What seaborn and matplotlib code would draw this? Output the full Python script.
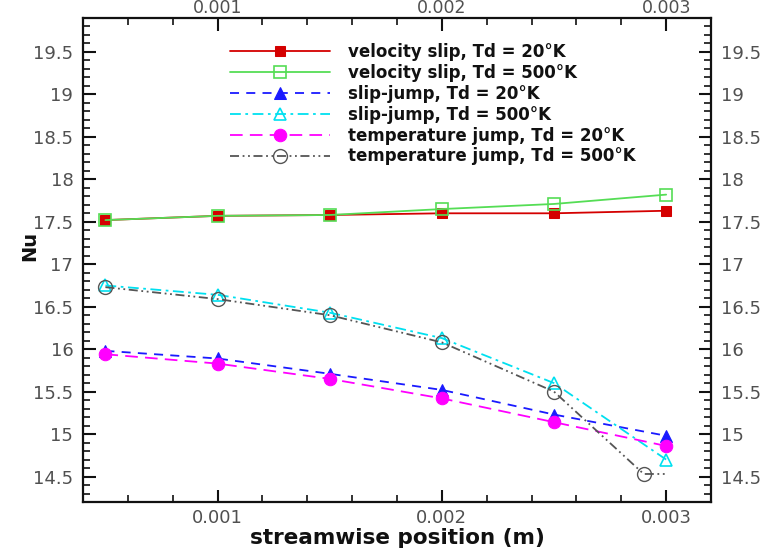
import matplotlib
matplotlib.use("Agg")
import matplotlib.pyplot as plt
from matplotlib.ticker import MultipleLocator, FixedLocator, FuncFormatter
import numpy as np
import pandas as pd
import seaborn as sns

# Streamwise stations (m)
x_pos = [0.0005, 0.001, 0.0015, 0.002, 0.0025, 0.003]
x_tj500 = [0.0005, 0.001, 0.0015, 0.002, 0.0025, 0.0029, 0.003]

# Nusselt number along the wall
nu_vs20 = [17.52, 17.57, 17.58, 17.60, 17.60, 17.63]
nu_vs500 = [17.52, 17.57, 17.58, 17.65, 17.71, 17.82]
nu_sj20 = [15.98, 15.89, 15.71, 15.52, 15.23, 14.98]
nu_sj500 = [16.75, 16.64, 16.43, 16.13, 15.60, 14.70]
nu_tj20 = [15.94, 15.83, 15.65, 15.42, 15.14, 14.86]
nu_tj500 = [16.73, 16.59, 16.40, 16.08, 15.50, 14.53, 14.53]

x_ticks = [0.001, 0.002, 0.003]

labels = [
    "velocity slip, Td = 20°K",
    "velocity slip, Td = 500°K",
    "slip-jump, Td = 20°K",
    "slip-jump, Td = 500°K",
    "temperature jump, Td = 20°K",
    "temperature jump, Td = 500°K",
]

sns.set_style("ticks")
plt.rcParams["font.family"] = ["DejaVu Sans"]

fig = plt.figure(figsize=(7.65, 5.5), dpi=100)
# frame spans x 83..711 px, y 18..502 px
ax = fig.add_axes([83 / 765, 48 / 550, 628 / 765, 484 / 550])

series = [
    (x_pos, nu_vs20, dict(color="#d40000", linestyle="-", marker="s", markersize=7.5,
                          markerfacecolor="#d40000", markeredgecolor="#d40000")),
    (x_pos, nu_vs500, dict(color="#55dd55", linestyle="-", marker="s", markersize=8,
                           markerfacecolor="none", markeredgecolor="#55dd55", markeredgewidth=1.2)),
    (x_pos, nu_sj20, dict(color="#1a1aff", linestyle=(0, (5, 4)), marker="^", markersize=8.5,
                          markerfacecolor="#1a1aff", markeredgecolor="#1a1aff")),
    (x_pos, nu_sj500, dict(color="#00e0f0", linestyle=(0, (6, 2.5, 1.5, 2.5)), marker="^", markersize=9,
                           markerfacecolor="none", markeredgecolor="#00e0f0", markeredgewidth=1.2)),
    (x_pos, nu_tj20, dict(color="#ff00ff", linestyle=(0, (7, 4)), marker="o", markersize=9,
                          markerfacecolor="#ff00ff", markeredgecolor="#ff00ff")),
    (x_tj500, nu_tj500, dict(color="#555555", linestyle=(0, (5, 2, 1, 2, 1, 2)), marker="o", markersize=10,
                             markerfacecolor="none", markeredgecolor="#555555", markeredgewidth=1.0,
                             markevery=[0, 1, 2, 3, 4, 5])),
]

for (xs, ys, style), lab in zip(series, labels):
    df = pd.DataFrame({"x": xs, "Nu": ys})
    sns.lineplot(data=df, x="x", y="Nu", ax=ax, label=lab, linewidth=1.3,
                 sort=False, estimator=None, **style)

ax.set_xlim(0.0004, 0.0032)
ax.set_ylim(14.2, 19.9)

xfmt = FuncFormatter(lambda v, p: f"{v:.3f}")
ax.xaxis.set_major_locator(FixedLocator(x_ticks))
ax.xaxis.set_minor_locator(MultipleLocator(0.0002))
ax.yaxis.set_major_locator(MultipleLocator(0.5))
ax.yaxis.set_minor_locator(MultipleLocator(0.1))
ax.xaxis.set_major_formatter(xfmt)
ax.yaxis.set_major_formatter(FuncFormatter(lambda v, p: f"{v:g}"))

tick_color = "#505050"
ax.tick_params(which="both", direction="in", top=True, right=True, left=True, bottom=True,
               labelright=True, labelsize=13, labelcolor=tick_color, color="#111111")
ax.tick_params(which="major", length=9, width=1.5)
ax.tick_params(which="minor", length=5, width=1.2)
ax.tick_params(axis="x", which="major", pad=5)
ax.tick_params(axis="y", which="major", pad=7)

# Tick labels along the top edge
top = ax.secondary_xaxis("top")
top.xaxis.set_major_locator(FixedLocator(x_ticks))
top.xaxis.set_minor_locator(FixedLocator([]))
top.xaxis.set_major_formatter(xfmt)
top.tick_params(which="major", direction="in", length=0, pad=0.5, labelsize=12.5, labelcolor=tick_color)
top.spines["top"].set_visible(False)

for sp in ax.spines.values():
    sp.set_linewidth(1.6)
    sp.set_color("#111111")
    sp.set_visible(True)

ax.set_xlabel("streamwise position (m)", fontsize=15.5, fontweight="bold", labelpad=1,
              color="#111111")
ax.set_ylabel("Nu", fontsize=14, fontweight="bold", color="#111111")
ax.yaxis.set_label_coords(-0.07, 0.53)

leg = ax.legend(loc="upper left", bbox_to_anchor=(0.234, 0.948), frameon=False,
                prop={"weight": "bold", "size": 12}, handlelength=6.0,
                handletextpad=1.08, labelspacing=0.17, borderpad=0, borderaxespad=0,
                numpoints=1)
for t in leg.get_texts():
    t.set_color("#111111")

fig.savefig("out.png", dpi=100)
